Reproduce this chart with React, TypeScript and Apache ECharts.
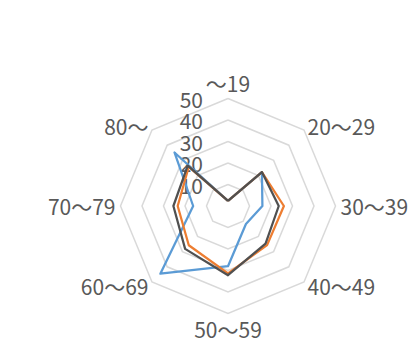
import React, { useEffect, useRef } from "react";
import * as echarts from "echarts";

const categories = ["～19", "20～29", "30～39", "40～49", "50～59", "60～69", "70～79", "80～"];
const seriesNames = ["系列1", "系列2", "系列3"];
const seriesBlue = [2.4, 22.3, 16.0, 11.8, 28.0, 44.5, 16.2, 35.2];
const seriesOrange = [2.4, 22.3, 26.0, 25.7, 31.3, 25.8, 23.4, 25.8];
const seriesDark = [2.4, 22.3, 23.6, 24.7, 32.2, 28.2, 25.4, 26.5];
const axisMax = 50;
const axisStep = 10;

const colors = ["#5B9BD5", "#ED7D31", "#505050"];
const FONT = "'Noto Sans CJK JP', 'Noto Sans', sans-serif";

// ECharts radar runs counter-clockwise; reorder so categories run clockwise.
const order = [0, 7, 6, 5, 4, 3, 2, 1];
const reorder = (arr: any[]) => order.map((i) => arr[i]);

export default function App() {
  const ref = useRef<HTMLDivElement>(null);
  useEffect(() => {
    if (!ref.current) return;
    const chart = echarts.init(ref.current, undefined, { renderer: "svg" });
    const center = [228, 206];
    const radius = 107.5;
    const allSeries = [seriesBlue, seriesOrange, seriesDark];
    chart.setOption({
      animation: false,
      backgroundColor: "#ffffff",
      radar: {
        center,
        radius,
        startAngle: 90,
        splitNumber: axisMax / axisStep,
        shape: "polygon",
        nameGap: 5,
        indicator: reorder(categories).map((name: string) => ({ name, min: 0, max: axisMax })),
        axisName: { color: "#595959", fontSize: 21, fontFamily: FONT, lineHeight: 21 },
        axisLine: { show: false },
        axisTick: { show: false },
        axisLabel: { show: false },
        splitLine: { lineStyle: { color: "#d9d9d9", width: 1.5 } },
        splitArea: { show: false },
      },
      polar: { center, radius },
      angleAxis: { show: false, startAngle: 90 },
      radiusAxis: {
        min: 0,
        max: axisMax,
        interval: axisStep,
        axisLine: { show: false },
        axisTick: { show: false },
        splitLine: { show: false },
        axisLabel: {
          showMinLabel: false,
          color: "#595959",
          fontSize: 21,
          lineHeight: 20,
          fontFamily: FONT,
          margin: 25,
        },
      },
      series: [
        {
          type: "radar",
          symbol: "none",
          data: allSeries.map((vals, i) => ({
            name: seriesNames[i],
            value: reorder(vals),
            lineStyle: { color: colors[i], width: 2.25 },
            itemStyle: { color: colors[i] },
          })),
        },
      ],
    });
    return () => chart.dispose();
  }, []);
  return (
    <div
      ref={ref}
      style={{ position: "fixed", left: 0, top: 0, width: 409, height: 346 }}
    />
  );
}
